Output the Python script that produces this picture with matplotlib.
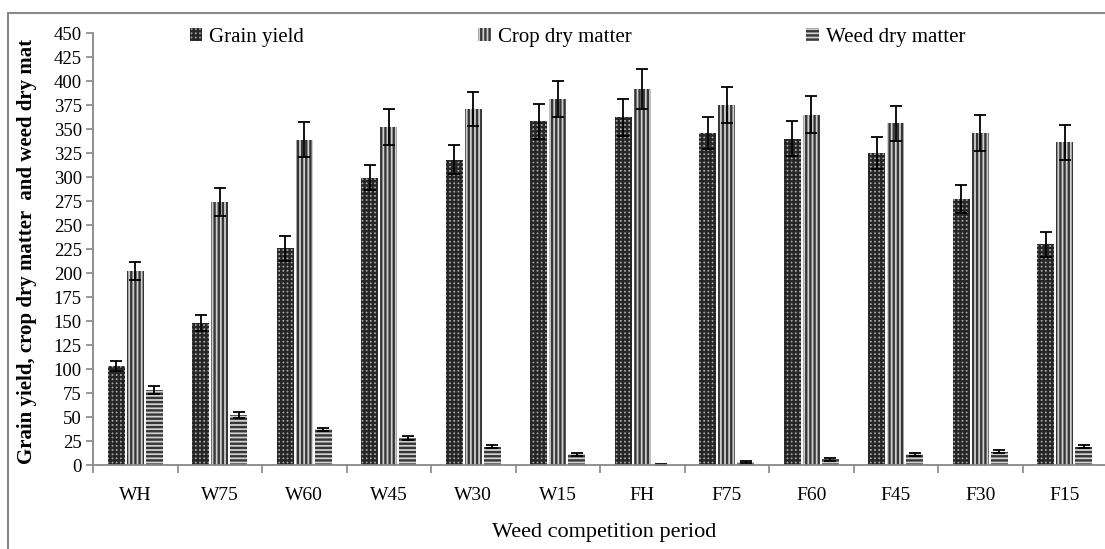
import numpy as np
import matplotlib
matplotlib.use("Agg")
import matplotlib.pyplot as plt
from matplotlib.patches import Rectangle

categories = ["WH", "W75", "W60", "W45", "W30", "W15", "FH", "F75", "F60", "F45", "F30", "F15"]
grain_yield = [103, 148, 226, 299, 318, 358, 362, 346, 340, 325, 277, 230]
grain_err = [5, 8, 13, 13, 15, 18, 19, 17, 18, 17, 15, 13]
crop_dm = [202, 274, 339, 352, 371, 381, 392, 375, 365, 356, 346, 336]
crop_err = [9, 15, 18, 19, 18, 19, 21, 19, 19, 18, 19, 18]
weed_dm = [78, 52, 37, 28, 19, 11, 0.5, 3, 6, 11, 14, 19]
weed_err = [4, 3, 2, 2, 1.5, 1.5, 0.5, 1, 1.5, 1.5, 1.5, 1.5]
series_labels = ["Grain yield", "Crop dry matter", "Weed dry matter"]
yticks = list(range(0, 451, 25))

plt.rcParams['font.family'] = ['Liberation Serif', 'DejaVu Serif']
plt.rcParams['hatch.linewidth'] = 1.7

W, H = 1105, 549
fig = plt.figure(figsize=(W / 100, H / 100), dpi=100)
ax = fig.add_axes([93 / W, 1 - 465 / H, (1107 - 93) / W, (465 - 33) / H])

x = np.arange(len(categories))
bw = 0.2
off = 0.225
styles = [
    dict(facecolor='#a8a8a8', hatch='++++', edgecolor='#262626'),
    dict(facecolor='#cfcfcf', hatch='||||', edgecolor='#363636'),
    dict(facecolor='#cfcfcf', hatch='----', edgecolor='#363636'),
]
data = [(grain_yield, grain_err), (crop_dm, crop_err), (weed_dm, weed_err)]
handles = []
for i, ((vals, errs), st, lab) in enumerate(zip(data, styles, series_labels)):
    b = ax.bar(x + (i - 1) * off, vals, bw, yerr=errs, linewidth=0,
               error_kw=dict(ecolor='black', elinewidth=1.3, capsize=4, capthick=1.3),
               label=lab, **st)
    handles.append(b)

ax.set_ylim(0, 450)
ax.set_xlim(-0.5, len(categories) - 0.5)
ax.set_yticks(yticks)
ax.set_yticklabels([str(v) for v in yticks], fontsize=13.5)
ax.set_xticks(np.arange(len(categories) + 1) - 0.5)
ax.set_xticklabels([''] * (len(categories) + 1))
ax.set_xticks(x, minor=True)
ax.set_xticklabels(categories, minor=True, fontsize=14)
ax.tick_params(axis='x', which='major', length=6, color='#888888', width=1.2, direction='out')
ax.tick_params(axis='x', which='minor', length=0, pad=16)
ax.tick_params(axis='y', length=5, color='#888888', width=1.2, direction='out', pad=3)
for s in ['top', 'right']:
    ax.spines[s].set_visible(False)
for s in ['left', 'bottom']:
    ax.spines[s].set_color('#888888')
    ax.spines[s].set_linewidth(1.3)

fig.text(27 / W, 1 - 464 / H, "Grain yield, crop dry matter  and weed dry mat",
         rotation=90, ha='center', va='bottom', fontsize=15, fontweight='bold')
fig.text(604 / W, 1 - 533 / H, "Weed competition period", ha='center', va='center', fontsize=16)

fig.legend(handles=handles, labels=series_labels, ncol=3, frameon=False,
           loc='center', bbox_to_anchor=(577.5 / W, 1 - 37 / H), fontsize=15,
           handlelength=0.6, handleheight=0.6, handletextpad=0.35, columnspacing=8.36)

fig.add_artist(Rectangle((8 / W, -0.1), 1.2, 1 - 13 / H + 0.1, transform=fig.transFigure,
                         fill=False, edgecolor='#888888', linewidth=1.5, clip_on=False))

fig.savefig("out.png", dpi=100)
